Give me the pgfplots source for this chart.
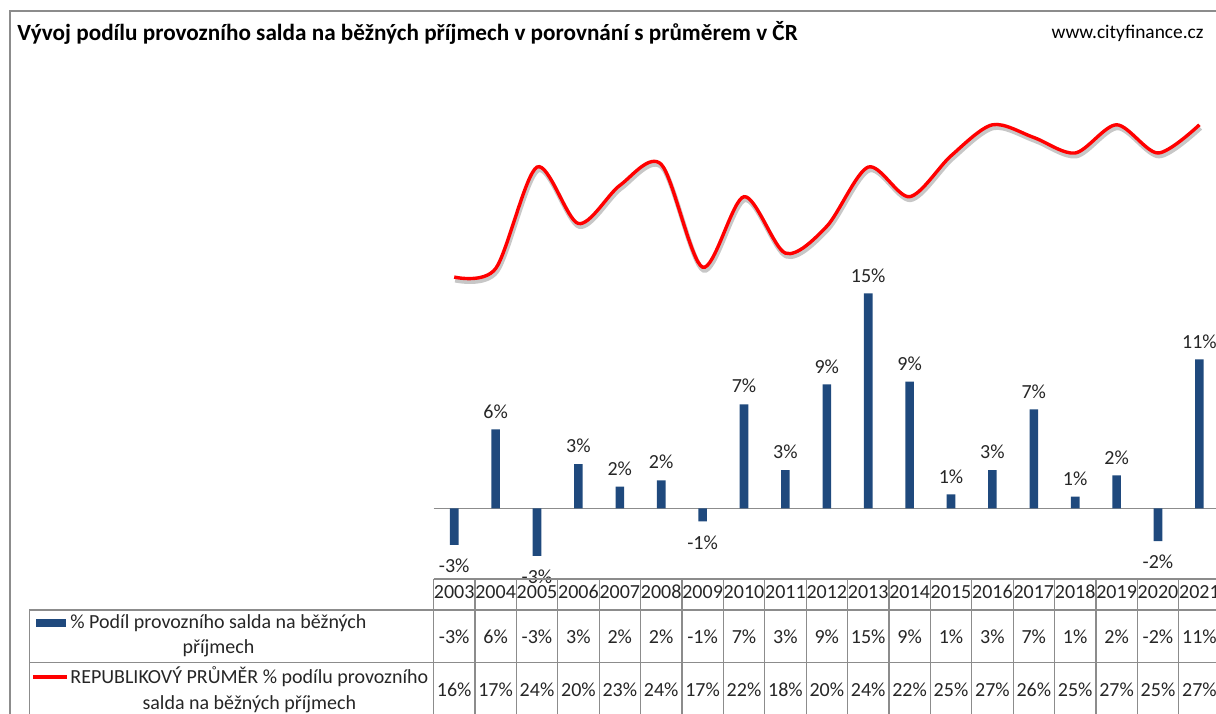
\documentclass[border=0pt]{standalone}
\usepackage{pgfplots}
\pgfplotsset{compat=1.18}
\usepackage{pgfplotstable}
\usepackage{fontspec}
\setmainfont{Carlito}
\definecolor{barblue}{RGB}{31,73,125}
\definecolor{gridgray}{RGB}{140,140,140}

\pgfplotstableread{
year val lab avg
2003 -2.6 -3 16.4
2004 5.6 6 17.0
2005 -3.38 -3 24.2
2006 3.14 3 20.2
2007 1.53 2 22.9
2008 1.99 2 24.4
2009 -0.92 -1 17.1
2010 7.38 7 22.1
2011 2.70 3 18.1
2012 8.79 9 20.0
2013 15.25 15 24.2
2014 8.98 9 22.1
2015 0.99 1 25.0
2016 2.70 3 27.2
2017 7.02 7 26.3
2018 0.82 1 25.2
2019 2.34 2 27.2
2020 -2.32 -2 25.2
2021 10.57 11 27.2
}\data

\begin{document}
\fontsize{10pt}{12pt}\selectfont
\begin{tikzpicture}
\useasboundingbox (0,0) rectangle (608pt,-356.5pt);
\clip (0,0) rectangle (608pt,-356.5pt);
\begin{axis}[
  at={(216.75pt,-289.4pt)}, anchor=south west,
  scale only axis, width=393.3pt, height=246.75pt,
  xmin=2002.5, xmax=2021.5, ymin=-5, ymax=30,
  hide axis, clip=false,
]
\draw[gridgray, line width=0.6pt] (axis cs:2002.5,0) -- (axis cs:2021.5,0);
\addplot[ybar, bar width=4.3pt, bar shift=0pt, fill=barblue, draw=none,
  point meta=explicit symbolic,
  visualization depends on={rawy \as \rawy},
  nodes near coords={\pgfplotspointmeta\%},
  every node near coord/.append style={anchor=center, text=black!85, font=\fontsize{10pt}{12pt}\selectfont, yshift={\rawy<0 ? -10.5 : 9}},
] table[x=year, y=val, meta=lab] {\data};
\addplot[no marks, smooth, tension=0.5, black, opacity=0.22, line width=2.4pt, transform canvas={xshift=0.5pt,yshift=-1.5pt}] table[x=year,y=avg] {\data};
\addplot[no marks, smooth, tension=0.5, red, line width=1.7pt] table[x=year,y=avg] {\data};
\end{axis}
\begin{scope}[x=0.5pt,y=-0.5pt]
\draw[gridgray, line width=0.7pt] (10,11) rectangle (1240,740);
\node[anchor=west, inner sep=0pt, font=\bfseries\fontsize{11.6pt}{13pt}\selectfont] at (17,33) {Vývoj podílu provozního salda na běžných příjmech v porovnání s průměrem v ČR};
\node[anchor=east, inner sep=0pt, font=\fontsize{9.7pt}{12pt}\selectfont] at (1204,33) {www.cityfinance.cz};
\begin{scope}[gridgray, line width=0.6pt]
\draw (433.5,579) -- (1240,579);
\draw (29.3,610) -- (1240,610);
\draw (29.3,662.7) -- (1240,662.7);
\draw (29.3,610) -- (29.3,740);
\foreach \k in {0,...,19} \draw (433.5+\k*41.4,579) -- (433.5+\k*41.4,740);
\end{scope}
\begin{scope}[text=black!85]
\foreach \y [count=\i from 0] in {2003,...,2021} \node[inner sep=0pt, anchor=base] at (454.2+\i*41.4,598.6) {\y};
\foreach \v [count=\i from 0] in {-3,6,-3,3,2,2,-1,7,3,9,15,9,1,3,7,1,2,-2,11} \node[inner sep=0pt, anchor=base] at (454.2+\i*41.4,643.6) {\v\%};
\foreach \v [count=\i from 0] in {16,17,24,20,23,24,17,22,18,20,24,22,25,27,26,25,27,25,27} \node[inner sep=0pt, anchor=base] at (454.2+\i*41.4,696.3) {\v\%};
\node[anchor=west, inner sep=0pt] (l1) at (70,623) {\% Podíl provozního salda na běžných};
\node[anchor=base, inner sep=0pt] at ([yshift=-12.5pt]l1.base) {příjmech};
\node[anchor=west, inner sep=0pt] (l2) at (70,677) {REPUBLIKOVÝ PRŮMĚR \% podílu provozního};
\node[anchor=base, inner sep=0pt] at ([yshift=-13pt]l2.base) {salda na běžných příjmech};
\end{scope}
\fill[barblue] (36,619) rectangle (66,627);
\draw[red, line width=1.7pt] (33,677) -- (67,677);
\end{scope}
\end{tikzpicture}
\end{document}
